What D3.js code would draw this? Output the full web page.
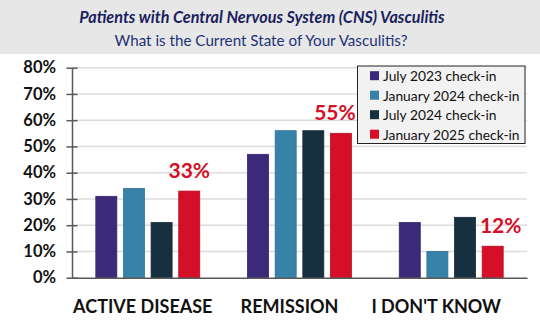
<!DOCTYPE html>
<html>
<head>
<meta charset="utf-8">
<script src="https://cdn.jsdelivr.net/npm/d3@7"></script>
<style>
  body { margin: 0; background: #fff; }
  svg { display: block; font-family: Lato, "Open Sans", sans-serif; }
</style>
</head>
<body>
<svg width="540" height="331"></svg>
<script>
// categories and survey waves
var categories = ['ACTIVE DISEASE', 'REMISSION', "I DON'T KNOW"];
var seriesNames = ['July 2023 check-in', 'January 2024 check-in', 'July 2024 check-in', 'January 2025 check-in'];
var seriesColors = ['#3b2a7a', '#3782a8', '#17303f', '#d40f27'];

// percent values per series (same order as categories)
var july2023 = [31, 47, 21];
var jan2024 = [34, 56, 10];
var july2024 = [21, 56, 23];
var jan2025 = [33, 55, 12];
var seriesValues = [july2023, jan2024, july2024, jan2025];

var yTicks = [0, 10, 20, 30, 40, 50, 60, 70, 80];

var svg = d3.select('svg');

// title band
svg.append('rect')
  .attr('x', 0).attr('y', 0)
  .attr('width', 540).attr('height', 54)
  .attr('fill', '#e7e7e7');

svg.append('text')
  .attr('x', 262).attr('y', 23)
  .attr('text-anchor', 'middle')
  .style('font-size', '16.2px')
  .style('font-weight', 'bold')
  .style('font-style', 'italic')
  .attr('fill', '#1b1f5e')
  .text('Patients with Central Nervous System (CNS) Vasculitis');

svg.append('text')
  .attr('x', 261).attr('y', 45.5)
  .attr('text-anchor', 'middle')
  .style('font-size', '15.2px')
  .attr('fill', '#1f3277')
  .text('What is the Current State of Your Vasculitis?');

// scales
var x0 = d3.scaleBand().domain(categories).range([72, 527]).paddingInner(0.315).paddingOuter(0.157);
var x1 = d3.scaleBand().domain(d3.range(seriesNames.length)).range([0, x0.bandwidth()]).paddingInner(0.24);
var y = d3.scaleLinear().domain([0, 80]).range([277.7, 67.7]);

// gridlines
svg.append('g')
  .selectAll('line')
  .data(yTicks.slice(1))
  .enter().append('line')
    .attr('x1', 72).attr('x2', 527)
    .attr('y1', d => y(d)).attr('y2', d => y(d))
    .attr('stroke', '#dcdcdc')
    .attr('stroke-width', 1.5);

// bars
var groups = svg.append('g')
  .selectAll('g')
  .data(categories)
  .enter().append('g')
    .attr('transform', d => 'translate(' + x0(d) + ',0)');

groups.selectAll('rect')
  .data((c, ci) => seriesValues.map((vals, si) => ({ si: si, v: vals[ci] })))
  .enter().append('rect')
    .attr('x', d => x1(d.si))
    .attr('y', d => y(d.v))
    .attr('width', x1.bandwidth())
    .attr('height', d => y(0) - y(d.v))
    .attr('fill', d => seriesColors[d.si])
    .attr('stroke', d => d3.color(seriesColors[d.si]).darker(0.4))
    .attr('stroke-width', 0.8);

// red value labels for January 2025
var labelShift = [0, -6, 8];
svg.append('g')
  .selectAll('text')
  .data(categories)
  .enter().append('text')
    .attr('x', (c, i) => x0(c) + x1(3) + x1.bandwidth() / 2 + labelShift[i])
    .attr('y', (c, i) => y(jan2025[i]) - 13)
    .attr('text-anchor', 'middle')
    .style('font-size', '21px')
    .style('font-weight', 'bold')
    .attr('fill', '#d40f27')
    .text((c, i) => jan2025[i] + '%');

// y axis
var yAxis = svg.append('g')
  .attr('transform', 'translate(72,0)')
  .call(d3.axisLeft(y).tickValues(yTicks).tickFormat(d => d + '%').tickSize(5.5).tickSizeOuter(0));
yAxis.select('.domain').attr('stroke', '#595959').attr('stroke-width', 1.5);
yAxis.selectAll('.tick line').attr('x2', 5.5).attr('x1', -5.5).attr('stroke', '#595959').attr('stroke-width', 1.5);
yAxis.selectAll('.tick text')
  .attr('x', -16)
  .attr('fill', '#111')
  .style('font-size', '16.5px')
  .style('font-weight', 'bold')
  .style('font-family', 'Lato, sans-serif');

// x axis baseline and labels
var xAxis = svg.append('g')
  .attr('transform', 'translate(0,' + y(0) + ')')
  .call(d3.axisBottom(x0).tickSize(0).tickSizeOuter(0));
xAxis.select('.domain').attr('stroke', '#595959').attr('stroke-width', 1.5);
xAxis.selectAll('.tick text')
  .attr('dy', 0)
  .attr('y', 35.5)
  .attr('dx', (d, i) => -5 * (i + 1))
  .attr('fill', '#111')
  .style('font-size', '18px')
  .style('font-weight', 'bold')
  .style('font-family', 'Lato, sans-serif');

// legend
var legend = svg.append('g').attr('transform', 'translate(357.5,66)');
legend.append('rect')
  .attr('width', 167.5).attr('height', 77.5)
  .attr('fill', '#f2f2f2')
  .attr('stroke', '#222')
  .attr('stroke-width', 1);

var items = legend.selectAll('g.item')
  .data(seriesNames)
  .enter().append('g')
    .attr('class', 'item')
    .attr('transform', (d, i) => 'translate(0,' + (9.7 + i * 19.5) + ')');

items.append('rect')
  .attr('x', 12.5).attr('y', -4.5)
  .attr('width', 9).attr('height', 9)
  .attr('fill', (d, i) => seriesColors[i]);

items.append('text')
  .attr('x', 25.5).attr('y', 5.5)
  .style('font-size', '13.8px')
  .attr('fill', '#111')
  .text(d => d);
</script>
</body>
</html>
